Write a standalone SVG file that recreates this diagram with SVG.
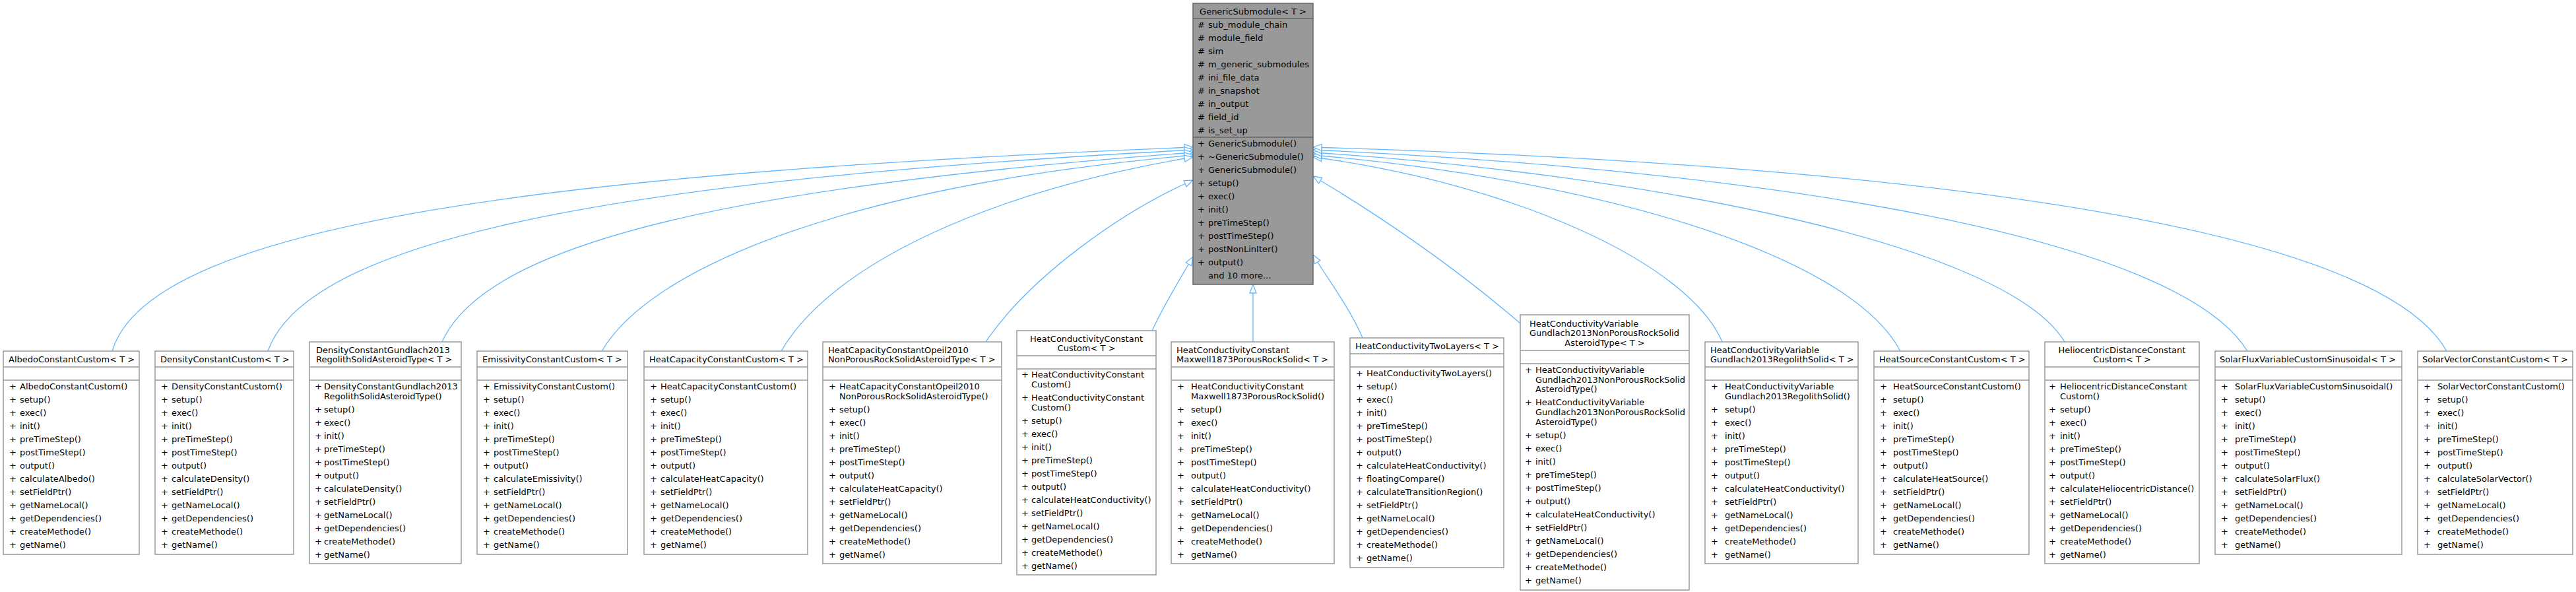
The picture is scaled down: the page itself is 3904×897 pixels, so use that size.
<svg xmlns="http://www.w3.org/2000/svg" width="3904" height="897" viewBox="0 0 3904 897">
<style>
text{font-family:"DejaVu Sans","Liberation Sans",sans-serif;font-size:13px;fill:#000}
.c{text-anchor:middle}
.box{fill:#fff;stroke:#999;stroke-width:1.5}
.top{fill:#999;stroke:#666;stroke-width:1.5}
.sep{stroke:#999;stroke-width:1.5}
.sept{stroke:#666;stroke-width:1.5}
.edge{fill:none;stroke:#63b8ff;stroke-width:1.3;marker-end:url(#tri)}
</style>
<defs>
<marker id="tri" markerUnits="userSpaceOnUse" markerWidth="15" markerHeight="12" viewBox="0 0 15 12" refX="14" refY="6" orient="auto">
<path d="M1,1 L14,6 L1,11 Z" fill="#fff" stroke="#63b8ff" stroke-width="1.3"/>
</marker>
</defs>
<rect width="3904" height="897" fill="#fff"/>
<g id="connectors">
<path class="edge" d="M170,532 C230,330 900,260 1808,223"/>
<path class="edge" d="M406,532 C470,350 1000,270 1808,227"/>
<path class="edge" d="M670,518 C740,360 1150,280 1808,231"/>
<path class="edge" d="M912,532 C990,400 1300,280 1808,235"/>
<path class="edge" d="M1184,532 C1260,400 1500,290 1808,238"/>
<path class="edge" d="M1494,518 C1560,420 1700,320 1808,273"/>
<path class="edge" d="M1746,501 C1765,460 1790,420 1808,389"/>
<path class="edge" d="M1899,518 L1899,431"/>
<path class="edge" d="M2065,512 C2045,465 2010,420 1990,386"/>
<path class="edge" d="M2304,490 C2200,400 2080,320 1990,267"/>
<path class="edge" d="M2610,518 C2560,400 2300,280 1990,238"/>
<path class="edge" d="M2880,532 C2800,380 2400,270 1990,235"/>
<path class="edge" d="M3129,518 C3040,370 2500,265 1990,231"/>
<path class="edge" d="M3406,532 C3300,360 2700,260 1990,227"/>
<path class="edge" d="M3708,532 C3600,340 2900,250 1990,223"/>
</g>
<g id="GenericSubmodule" transform="translate(1808,0)">
<rect class="top" x="0" y="5" width="182" height="426"/>
<text class="c" x="91" y="22">GenericSubmodule&lt; T &gt;</text>
<line class="sept" x1="0" y1="28" x2="182" y2="28"/>
<text y="42"><tspan x="7">#</tspan><tspan x="23">sub_module_chain</tspan></text>
<text y="62"><tspan x="7">#</tspan><tspan x="23">module_field</tspan></text>
<text y="82"><tspan x="7">#</tspan><tspan x="23">sim</tspan></text>
<text y="102"><tspan x="7">#</tspan><tspan x="23">m_generic_submodules</tspan></text>
<text y="122"><tspan x="7">#</tspan><tspan x="23">ini_file_data</tspan></text>
<text y="142"><tspan x="7">#</tspan><tspan x="23">in_snapshot</tspan></text>
<text y="162"><tspan x="7">#</tspan><tspan x="23">in_output</tspan></text>
<text y="182"><tspan x="7">#</tspan><tspan x="23">field_id</tspan></text>
<text y="202"><tspan x="7">#</tspan><tspan x="23">is_set_up</tspan></text>
<line class="sept" x1="0" y1="208" x2="182" y2="208"/>
<text y="222"><tspan x="7">+</tspan><tspan x="23">GenericSubmodule()</tspan></text>
<text y="242"><tspan x="7">+</tspan><tspan x="23">~GenericSubmodule()</tspan></text>
<text y="262"><tspan x="7">+</tspan><tspan x="23">GenericSubmodule()</tspan></text>
<text y="282"><tspan x="7">+</tspan><tspan x="23">setup()</tspan></text>
<text y="302"><tspan x="7">+</tspan><tspan x="23">exec()</tspan></text>
<text y="322"><tspan x="7">+</tspan><tspan x="23">init()</tspan></text>
<text y="342"><tspan x="7">+</tspan><tspan x="23">preTimeStep()</tspan></text>
<text y="362"><tspan x="7">+</tspan><tspan x="23">postTimeStep()</tspan></text>
<text y="382"><tspan x="7">+</tspan><tspan x="23">postNonLinIter()</tspan></text>
<text y="402"><tspan x="7">+</tspan><tspan x="23">output()</tspan></text>
<text x="23" y="422">and 10 more...</text>
</g>
<g id="AlbedoConstantCustom" transform="translate(5,0)">
<rect class="box" x="0" y="532" width="206" height="308"/>
<text x="8" y="549">AlbedoConstantCustom&lt; T &gt;</text>
<line class="sep" x1="0" y1="556" x2="206" y2="556"/><line class="sep" x1="0" y1="576" x2="206" y2="576"/>
<text y="590"><tspan x="9">+</tspan><tspan x="25">AlbedoConstantCustom()</tspan></text>
<text y="610"><tspan x="9">+</tspan><tspan x="25">setup()</tspan></text>
<text y="630"><tspan x="9">+</tspan><tspan x="25">exec()</tspan></text>
<text y="650"><tspan x="9">+</tspan><tspan x="25">init()</tspan></text>
<text y="670"><tspan x="9">+</tspan><tspan x="25">preTimeStep()</tspan></text>
<text y="690"><tspan x="9">+</tspan><tspan x="25">postTimeStep()</tspan></text>
<text y="710"><tspan x="9">+</tspan><tspan x="25">output()</tspan></text>
<text y="730"><tspan x="9">+</tspan><tspan x="25">calculateAlbedo()</tspan></text>
<text y="750"><tspan x="9">+</tspan><tspan x="25">setFieldPtr()</tspan></text>
<text y="770"><tspan x="9">+</tspan><tspan x="25">getNameLocal()</tspan></text>
<text y="790"><tspan x="9">+</tspan><tspan x="25">getDependencies()</tspan></text>
<text y="810"><tspan x="9">+</tspan><tspan x="25">createMethode()</tspan></text>
<text y="830"><tspan x="9">+</tspan><tspan x="25">getName()</tspan></text>
</g>
<g id="DensityConstantCustom" transform="translate(235,0)">
<rect class="box" x="0" y="532" width="210" height="308"/>
<text x="8" y="549">DensityConstantCustom&lt; T &gt;</text>
<line class="sep" x1="0" y1="556" x2="210" y2="556"/><line class="sep" x1="0" y1="576" x2="210" y2="576"/>
<text y="590"><tspan x="9">+</tspan><tspan x="25">DensityConstantCustom()</tspan></text>
<text y="610"><tspan x="9">+</tspan><tspan x="25">setup()</tspan></text>
<text y="630"><tspan x="9">+</tspan><tspan x="25">exec()</tspan></text>
<text y="650"><tspan x="9">+</tspan><tspan x="25">init()</tspan></text>
<text y="670"><tspan x="9">+</tspan><tspan x="25">preTimeStep()</tspan></text>
<text y="690"><tspan x="9">+</tspan><tspan x="25">postTimeStep()</tspan></text>
<text y="710"><tspan x="9">+</tspan><tspan x="25">output()</tspan></text>
<text y="730"><tspan x="9">+</tspan><tspan x="25">calculateDensity()</tspan></text>
<text y="750"><tspan x="9">+</tspan><tspan x="25">setFieldPtr()</tspan></text>
<text y="770"><tspan x="9">+</tspan><tspan x="25">getNameLocal()</tspan></text>
<text y="790"><tspan x="9">+</tspan><tspan x="25">getDependencies()</tspan></text>
<text y="810"><tspan x="9">+</tspan><tspan x="25">createMethode()</tspan></text>
<text y="830"><tspan x="9">+</tspan><tspan x="25">getName()</tspan></text>
</g>
<g id="DensityConstantGundlach2013RegolithSolidAsteroidType" transform="translate(469,0)">
<rect class="box" x="0" y="518" width="230" height="336"/>
<text x="10" y="535">DensityConstantGundlach2013</text>
<text x="10" y="549">RegolithSolidAsteroidType&lt; T &gt;</text>
<line class="sep" x1="0" y1="556" x2="230" y2="556"/><line class="sep" x1="0" y1="576" x2="230" y2="576"/>
<text y="590"><tspan x="8">+</tspan><tspan x="22">DensityConstantGundlach2013</tspan></text>
<text x="22" y="605">RegolithSolidAsteroidType()</text>
<text y="625"><tspan x="8">+</tspan><tspan x="22">setup()</tspan></text>
<text y="645"><tspan x="8">+</tspan><tspan x="22">exec()</tspan></text>
<text y="665"><tspan x="8">+</tspan><tspan x="22">init()</tspan></text>
<text y="685"><tspan x="8">+</tspan><tspan x="22">preTimeStep()</tspan></text>
<text y="705"><tspan x="8">+</tspan><tspan x="22">postTimeStep()</tspan></text>
<text y="725"><tspan x="8">+</tspan><tspan x="22">output()</tspan></text>
<text y="745"><tspan x="8">+</tspan><tspan x="22">calculateDensity()</tspan></text>
<text y="765"><tspan x="8">+</tspan><tspan x="22">setFieldPtr()</tspan></text>
<text y="785"><tspan x="8">+</tspan><tspan x="22">getNameLocal()</tspan></text>
<text y="805"><tspan x="8">+</tspan><tspan x="22">getDependencies()</tspan></text>
<text y="825"><tspan x="8">+</tspan><tspan x="22">createMethode()</tspan></text>
<text y="845"><tspan x="8">+</tspan><tspan x="22">getName()</tspan></text>
</g>
<g id="EmissivityConstantCustom" transform="translate(723,0)">
<rect class="box" x="0" y="532" width="228" height="308"/>
<text x="8" y="549">EmissivityConstantCustom&lt; T &gt;</text>
<line class="sep" x1="0" y1="556" x2="228" y2="556"/><line class="sep" x1="0" y1="576" x2="228" y2="576"/>
<text y="590"><tspan x="9">+</tspan><tspan x="25">EmissivityConstantCustom()</tspan></text>
<text y="610"><tspan x="9">+</tspan><tspan x="25">setup()</tspan></text>
<text y="630"><tspan x="9">+</tspan><tspan x="25">exec()</tspan></text>
<text y="650"><tspan x="9">+</tspan><tspan x="25">init()</tspan></text>
<text y="670"><tspan x="9">+</tspan><tspan x="25">preTimeStep()</tspan></text>
<text y="690"><tspan x="9">+</tspan><tspan x="25">postTimeStep()</tspan></text>
<text y="710"><tspan x="9">+</tspan><tspan x="25">output()</tspan></text>
<text y="730"><tspan x="9">+</tspan><tspan x="25">calculateEmissivity()</tspan></text>
<text y="750"><tspan x="9">+</tspan><tspan x="25">setFieldPtr()</tspan></text>
<text y="770"><tspan x="9">+</tspan><tspan x="25">getNameLocal()</tspan></text>
<text y="790"><tspan x="9">+</tspan><tspan x="25">getDependencies()</tspan></text>
<text y="810"><tspan x="9">+</tspan><tspan x="25">createMethode()</tspan></text>
<text y="830"><tspan x="9">+</tspan><tspan x="25">getName()</tspan></text>
</g>
<g id="HeatCapacityConstantCustom" transform="translate(976,0)">
<rect class="box" x="0" y="532" width="248" height="308"/>
<text x="8" y="549">HeatCapacityConstantCustom&lt; T &gt;</text>
<line class="sep" x1="0" y1="556" x2="248" y2="556"/><line class="sep" x1="0" y1="576" x2="248" y2="576"/>
<text y="590"><tspan x="9">+</tspan><tspan x="25">HeatCapacityConstantCustom()</tspan></text>
<text y="610"><tspan x="9">+</tspan><tspan x="25">setup()</tspan></text>
<text y="630"><tspan x="9">+</tspan><tspan x="25">exec()</tspan></text>
<text y="650"><tspan x="9">+</tspan><tspan x="25">init()</tspan></text>
<text y="670"><tspan x="9">+</tspan><tspan x="25">preTimeStep()</tspan></text>
<text y="690"><tspan x="9">+</tspan><tspan x="25">postTimeStep()</tspan></text>
<text y="710"><tspan x="9">+</tspan><tspan x="25">output()</tspan></text>
<text y="730"><tspan x="9">+</tspan><tspan x="25">calculateHeatCapacity()</tspan></text>
<text y="750"><tspan x="9">+</tspan><tspan x="25">setFieldPtr()</tspan></text>
<text y="770"><tspan x="9">+</tspan><tspan x="25">getNameLocal()</tspan></text>
<text y="790"><tspan x="9">+</tspan><tspan x="25">getDependencies()</tspan></text>
<text y="810"><tspan x="9">+</tspan><tspan x="25">createMethode()</tspan></text>
<text y="830"><tspan x="9">+</tspan><tspan x="25">getName()</tspan></text>
</g>
<g id="HeatCapacityConstantOpeil2010NonPorousRockSolidAsteroidType" transform="translate(1247,0)">
<rect class="box" x="0" y="518" width="271" height="336"/>
<text x="8" y="535">HeatCapacityConstantOpeil2010</text>
<text x="8" y="549">NonPorousRockSolidAsteroidType&lt; T &gt;</text>
<line class="sep" x1="0" y1="556" x2="271" y2="556"/><line class="sep" x1="0" y1="576" x2="271" y2="576"/>
<text y="590"><tspan x="9">+</tspan><tspan x="25">HeatCapacityConstantOpeil2010</tspan></text>
<text x="25" y="605">NonPorousRockSolidAsteroidType()</text>
<text y="625"><tspan x="9">+</tspan><tspan x="25">setup()</tspan></text>
<text y="645"><tspan x="9">+</tspan><tspan x="25">exec()</tspan></text>
<text y="665"><tspan x="9">+</tspan><tspan x="25">init()</tspan></text>
<text y="685"><tspan x="9">+</tspan><tspan x="25">preTimeStep()</tspan></text>
<text y="705"><tspan x="9">+</tspan><tspan x="25">postTimeStep()</tspan></text>
<text y="725"><tspan x="9">+</tspan><tspan x="25">output()</tspan></text>
<text y="745"><tspan x="9">+</tspan><tspan x="25">calculateHeatCapacity()</tspan></text>
<text y="765"><tspan x="9">+</tspan><tspan x="25">setFieldPtr()</tspan></text>
<text y="785"><tspan x="9">+</tspan><tspan x="25">getNameLocal()</tspan></text>
<text y="805"><tspan x="9">+</tspan><tspan x="25">getDependencies()</tspan></text>
<text y="825"><tspan x="9">+</tspan><tspan x="25">createMethode()</tspan></text>
<text y="845"><tspan x="9">+</tspan><tspan x="25">getName()</tspan></text>
</g>
<g id="HeatConductivityConstantCustom" transform="translate(1541,0)">
<rect class="box" x="0" y="501" width="211" height="370"/>
<text class="c" x="105.5" y="518">HeatConductivityConstant</text>
<text class="c" x="105.5" y="532">Custom&lt; T &gt;</text>
<line class="sep" x1="0" y1="539" x2="211" y2="539"/><line class="sep" x1="0" y1="559" x2="211" y2="559"/>
<text y="572"><tspan x="7">+</tspan><tspan x="22">HeatConductivityConstant</tspan></text>
<text x="22" y="587">Custom()</text>
<text y="607"><tspan x="7">+</tspan><tspan x="22">HeatConductivityConstant</tspan></text>
<text x="22" y="622">Custom()</text>
<text y="642"><tspan x="7">+</tspan><tspan x="22">setup()</tspan></text>
<text y="662"><tspan x="7">+</tspan><tspan x="22">exec()</tspan></text>
<text y="682"><tspan x="7">+</tspan><tspan x="22">init()</tspan></text>
<text y="702"><tspan x="7">+</tspan><tspan x="22">preTimeStep()</tspan></text>
<text y="722"><tspan x="7">+</tspan><tspan x="22">postTimeStep()</tspan></text>
<text y="742"><tspan x="7">+</tspan><tspan x="22">output()</tspan></text>
<text y="762"><tspan x="7">+</tspan><tspan x="22">calculateHeatConductivity()</tspan></text>
<text y="782"><tspan x="7">+</tspan><tspan x="22">setFieldPtr()</tspan></text>
<text y="802"><tspan x="7">+</tspan><tspan x="22">getNameLocal()</tspan></text>
<text y="822"><tspan x="7">+</tspan><tspan x="22">getDependencies()</tspan></text>
<text y="842"><tspan x="7">+</tspan><tspan x="22">createMethode()</tspan></text>
<text y="862"><tspan x="7">+</tspan><tspan x="22">getName()</tspan></text>
</g>
<g id="HeatConductivityConstantMaxwell1873PorousRockSolid" transform="translate(1775,0)">
<rect class="box" x="0" y="518" width="247" height="336"/>
<text x="8" y="535">HeatConductivityConstant</text>
<text x="8" y="549">Maxwell1873PorousRockSolid&lt; T &gt;</text>
<line class="sep" x1="0" y1="556" x2="247" y2="556"/><line class="sep" x1="0" y1="576" x2="247" y2="576"/>
<text y="590"><tspan x="9">+</tspan><tspan x="30">HeatConductivityConstant</tspan></text>
<text x="30" y="605">Maxwell1873PorousRockSolid()</text>
<text y="625"><tspan x="9">+</tspan><tspan x="30">setup()</tspan></text>
<text y="645"><tspan x="9">+</tspan><tspan x="30">exec()</tspan></text>
<text y="665"><tspan x="9">+</tspan><tspan x="30">init()</tspan></text>
<text y="685"><tspan x="9">+</tspan><tspan x="30">preTimeStep()</tspan></text>
<text y="705"><tspan x="9">+</tspan><tspan x="30">postTimeStep()</tspan></text>
<text y="725"><tspan x="9">+</tspan><tspan x="30">output()</tspan></text>
<text y="745"><tspan x="9">+</tspan><tspan x="30">calculateHeatConductivity()</tspan></text>
<text y="765"><tspan x="9">+</tspan><tspan x="30">setFieldPtr()</tspan></text>
<text y="785"><tspan x="9">+</tspan><tspan x="30">getNameLocal()</tspan></text>
<text y="805"><tspan x="9">+</tspan><tspan x="30">getDependencies()</tspan></text>
<text y="825"><tspan x="9">+</tspan><tspan x="30">createMethode()</tspan></text>
<text y="845"><tspan x="9">+</tspan><tspan x="30">getName()</tspan></text>
</g>
<g id="HeatConductivityTwoLayers" transform="translate(2046,0)">
<rect class="box" x="0" y="512" width="233" height="348"/>
<text x="8" y="529">HeatConductivityTwoLayers&lt; T &gt;</text>
<line class="sep" x1="0" y1="536" x2="233" y2="536"/><line class="sep" x1="0" y1="556" x2="233" y2="556"/>
<text y="570"><tspan x="9">+</tspan><tspan x="25">HeatConductivityTwoLayers()</tspan></text>
<text y="590"><tspan x="9">+</tspan><tspan x="25">setup()</tspan></text>
<text y="610"><tspan x="9">+</tspan><tspan x="25">exec()</tspan></text>
<text y="630"><tspan x="9">+</tspan><tspan x="25">init()</tspan></text>
<text y="650"><tspan x="9">+</tspan><tspan x="25">preTimeStep()</tspan></text>
<text y="670"><tspan x="9">+</tspan><tspan x="25">postTimeStep()</tspan></text>
<text y="690"><tspan x="9">+</tspan><tspan x="25">output()</tspan></text>
<text y="710"><tspan x="9">+</tspan><tspan x="25">calculateHeatConductivity()</tspan></text>
<text y="730"><tspan x="9">+</tspan><tspan x="25">floatingCompare()</tspan></text>
<text y="750"><tspan x="9">+</tspan><tspan x="25">calculateTransitionRegion()</tspan></text>
<text y="770"><tspan x="9">+</tspan><tspan x="25">setFieldPtr()</tspan></text>
<text y="790"><tspan x="9">+</tspan><tspan x="25">getNameLocal()</tspan></text>
<text y="810"><tspan x="9">+</tspan><tspan x="25">getDependencies()</tspan></text>
<text y="830"><tspan x="9">+</tspan><tspan x="25">createMethode()</tspan></text>
<text y="850"><tspan x="9">+</tspan><tspan x="25">getName()</tspan></text>
</g>
<g id="HeatConductivityVariableGundlach2013NonPorousRockSolidAsteroidType" transform="translate(2304,0)">
<rect class="box" x="0" y="477" width="256" height="417"/>
<text x="14" y="495">HeatConductivityVariable</text>
<text x="14" y="509">Gundlach2013NonPorousRockSolid</text>
<text class="c" x="128" y="524">AsteroidType&lt; T &gt;</text>
<line class="sep" x1="0" y1="531" x2="256" y2="531"/><line class="sep" x1="0" y1="551" x2="256" y2="551"/>
<text y="565"><tspan x="7">+</tspan><tspan x="23">HeatConductivityVariable</tspan></text>
<text x="23" y="580">Gundlach2013NonPorousRockSolid</text>
<text x="23" y="594">AsteroidType()</text>
<text y="614"><tspan x="7">+</tspan><tspan x="23">HeatConductivityVariable</tspan></text>
<text x="23" y="629">Gundlach2013NonPorousRockSolid</text>
<text x="23" y="644">AsteroidType()</text>
<text y="664"><tspan x="7">+</tspan><tspan x="23">setup()</tspan></text>
<text y="684"><tspan x="7">+</tspan><tspan x="23">exec()</tspan></text>
<text y="704"><tspan x="7">+</tspan><tspan x="23">init()</tspan></text>
<text y="724"><tspan x="7">+</tspan><tspan x="23">preTimeStep()</tspan></text>
<text y="744"><tspan x="7">+</tspan><tspan x="23">postTimeStep()</tspan></text>
<text y="764"><tspan x="7">+</tspan><tspan x="23">output()</tspan></text>
<text y="784"><tspan x="7">+</tspan><tspan x="23">calculateHeatConductivity()</tspan></text>
<text y="804"><tspan x="7">+</tspan><tspan x="23">setFieldPtr()</tspan></text>
<text y="824"><tspan x="7">+</tspan><tspan x="23">getNameLocal()</tspan></text>
<text y="844"><tspan x="7">+</tspan><tspan x="23">getDependencies()</tspan></text>
<text y="864"><tspan x="7">+</tspan><tspan x="23">createMethode()</tspan></text>
<text y="884"><tspan x="7">+</tspan><tspan x="23">getName()</tspan></text>
</g>
<g id="HeatConductivityVariableGundlach2013RegolithSolid" transform="translate(2584,0)">
<rect class="box" x="0" y="518" width="232" height="336"/>
<text x="8" y="535">HeatConductivityVariable</text>
<text x="8" y="549">Gundlach2013RegolithSolid&lt; T &gt;</text>
<line class="sep" x1="0" y1="556" x2="232" y2="556"/><line class="sep" x1="0" y1="576" x2="232" y2="576"/>
<text y="590"><tspan x="9">+</tspan><tspan x="30">HeatConductivityVariable</tspan></text>
<text x="30" y="605">Gundlach2013RegolithSolid()</text>
<text y="625"><tspan x="9">+</tspan><tspan x="30">setup()</tspan></text>
<text y="645"><tspan x="9">+</tspan><tspan x="30">exec()</tspan></text>
<text y="665"><tspan x="9">+</tspan><tspan x="30">init()</tspan></text>
<text y="685"><tspan x="9">+</tspan><tspan x="30">preTimeStep()</tspan></text>
<text y="705"><tspan x="9">+</tspan><tspan x="30">postTimeStep()</tspan></text>
<text y="725"><tspan x="9">+</tspan><tspan x="30">output()</tspan></text>
<text y="745"><tspan x="9">+</tspan><tspan x="30">calculateHeatConductivity()</tspan></text>
<text y="765"><tspan x="9">+</tspan><tspan x="30">setFieldPtr()</tspan></text>
<text y="785"><tspan x="9">+</tspan><tspan x="30">getNameLocal()</tspan></text>
<text y="805"><tspan x="9">+</tspan><tspan x="30">getDependencies()</tspan></text>
<text y="825"><tspan x="9">+</tspan><tspan x="30">createMethode()</tspan></text>
<text y="845"><tspan x="9">+</tspan><tspan x="30">getName()</tspan></text>
</g>
<g id="HeatSourceConstantCustom" transform="translate(2840,0)">
<rect class="box" x="0" y="532" width="235" height="308"/>
<text x="8" y="549">HeatSourceConstantCustom&lt; T &gt;</text>
<line class="sep" x1="0" y1="556" x2="235" y2="556"/><line class="sep" x1="0" y1="576" x2="235" y2="576"/>
<text y="590"><tspan x="9">+</tspan><tspan x="29">HeatSourceConstantCustom()</tspan></text>
<text y="610"><tspan x="9">+</tspan><tspan x="29">setup()</tspan></text>
<text y="630"><tspan x="9">+</tspan><tspan x="29">exec()</tspan></text>
<text y="650"><tspan x="9">+</tspan><tspan x="29">init()</tspan></text>
<text y="670"><tspan x="9">+</tspan><tspan x="29">preTimeStep()</tspan></text>
<text y="690"><tspan x="9">+</tspan><tspan x="29">postTimeStep()</tspan></text>
<text y="710"><tspan x="9">+</tspan><tspan x="29">output()</tspan></text>
<text y="730"><tspan x="9">+</tspan><tspan x="29">calculateHeatSource()</tspan></text>
<text y="750"><tspan x="9">+</tspan><tspan x="29">setFieldPtr()</tspan></text>
<text y="770"><tspan x="9">+</tspan><tspan x="29">getNameLocal()</tspan></text>
<text y="790"><tspan x="9">+</tspan><tspan x="29">getDependencies()</tspan></text>
<text y="810"><tspan x="9">+</tspan><tspan x="29">createMethode()</tspan></text>
<text y="830"><tspan x="9">+</tspan><tspan x="29">getName()</tspan></text>
</g>
<g id="HeliocentricDistanceConstantCustom" transform="translate(3099,0)">
<rect class="box" x="0" y="518" width="234" height="336"/>
<text class="c" x="117" y="535">HeliocentricDistanceConstant</text>
<text class="c" x="117" y="549">Custom&lt; T &gt;</text>
<line class="sep" x1="0" y1="556" x2="234" y2="556"/><line class="sep" x1="0" y1="576" x2="234" y2="576"/>
<text y="590"><tspan x="6">+</tspan><tspan x="23">HeliocentricDistanceConstant</tspan></text>
<text x="23" y="605">Custom()</text>
<text y="625"><tspan x="6">+</tspan><tspan x="23">setup()</tspan></text>
<text y="645"><tspan x="6">+</tspan><tspan x="23">exec()</tspan></text>
<text y="665"><tspan x="6">+</tspan><tspan x="23">init()</tspan></text>
<text y="685"><tspan x="6">+</tspan><tspan x="23">preTimeStep()</tspan></text>
<text y="705"><tspan x="6">+</tspan><tspan x="23">postTimeStep()</tspan></text>
<text y="725"><tspan x="6">+</tspan><tspan x="23">output()</tspan></text>
<text y="745"><tspan x="6">+</tspan><tspan x="23">calculateHeliocentricDistance()</tspan></text>
<text y="765"><tspan x="6">+</tspan><tspan x="23">setFieldPtr()</tspan></text>
<text y="785"><tspan x="6">+</tspan><tspan x="23">getNameLocal()</tspan></text>
<text y="805"><tspan x="6">+</tspan><tspan x="23">getDependencies()</tspan></text>
<text y="825"><tspan x="6">+</tspan><tspan x="23">createMethode()</tspan></text>
<text y="845"><tspan x="6">+</tspan><tspan x="23">getName()</tspan></text>
</g>
<g id="SolarFluxVariableCustomSinusoidal" transform="translate(3357,0)">
<rect class="box" x="0" y="532" width="283" height="308"/>
<text x="7" y="549">SolarFluxVariableCustomSinusoidal&lt; T &gt;</text>
<line class="sep" x1="0" y1="556" x2="283" y2="556"/><line class="sep" x1="0" y1="576" x2="283" y2="576"/>
<text y="590"><tspan x="9">+</tspan><tspan x="30">SolarFluxVariableCustomSinusoidal()</tspan></text>
<text y="610"><tspan x="9">+</tspan><tspan x="30">setup()</tspan></text>
<text y="630"><tspan x="9">+</tspan><tspan x="30">exec()</tspan></text>
<text y="650"><tspan x="9">+</tspan><tspan x="30">init()</tspan></text>
<text y="670"><tspan x="9">+</tspan><tspan x="30">preTimeStep()</tspan></text>
<text y="690"><tspan x="9">+</tspan><tspan x="30">postTimeStep()</tspan></text>
<text y="710"><tspan x="9">+</tspan><tspan x="30">output()</tspan></text>
<text y="730"><tspan x="9">+</tspan><tspan x="30">calculateSolarFlux()</tspan></text>
<text y="750"><tspan x="9">+</tspan><tspan x="30">setFieldPtr()</tspan></text>
<text y="770"><tspan x="9">+</tspan><tspan x="30">getNameLocal()</tspan></text>
<text y="790"><tspan x="9">+</tspan><tspan x="30">getDependencies()</tspan></text>
<text y="810"><tspan x="9">+</tspan><tspan x="30">createMethode()</tspan></text>
<text y="830"><tspan x="9">+</tspan><tspan x="30">getName()</tspan></text>
</g>
<g id="SolarVectorConstantCustom" transform="translate(3664,0)">
<rect class="box" x="0" y="532" width="235" height="308"/>
<text x="7" y="549">SolarVectorConstantCustom&lt; T &gt;</text>
<line class="sep" x1="0" y1="556" x2="235" y2="556"/><line class="sep" x1="0" y1="576" x2="235" y2="576"/>
<text y="590"><tspan x="9">+</tspan><tspan x="30">SolarVectorConstantCustom()</tspan></text>
<text y="610"><tspan x="9">+</tspan><tspan x="30">setup()</tspan></text>
<text y="630"><tspan x="9">+</tspan><tspan x="30">exec()</tspan></text>
<text y="650"><tspan x="9">+</tspan><tspan x="30">init()</tspan></text>
<text y="670"><tspan x="9">+</tspan><tspan x="30">preTimeStep()</tspan></text>
<text y="690"><tspan x="9">+</tspan><tspan x="30">postTimeStep()</tspan></text>
<text y="710"><tspan x="9">+</tspan><tspan x="30">output()</tspan></text>
<text y="730"><tspan x="9">+</tspan><tspan x="30">calculateSolarVector()</tspan></text>
<text y="750"><tspan x="9">+</tspan><tspan x="30">setFieldPtr()</tspan></text>
<text y="770"><tspan x="9">+</tspan><tspan x="30">getNameLocal()</tspan></text>
<text y="790"><tspan x="9">+</tspan><tspan x="30">getDependencies()</tspan></text>
<text y="810"><tspan x="9">+</tspan><tspan x="30">createMethode()</tspan></text>
<text y="830"><tspan x="9">+</tspan><tspan x="30">getName()</tspan></text>
</g>
</svg>
